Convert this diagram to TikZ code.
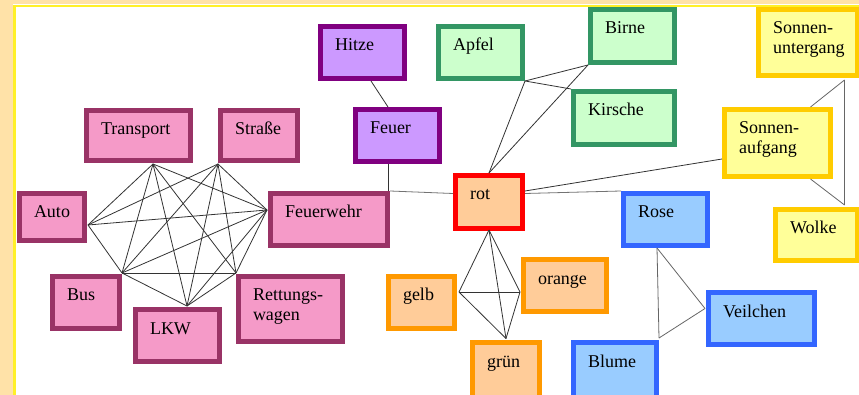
\documentclass[tikz,border=0pt]{standalone}
\usepackage{fontspec}
\setmainfont{Liberation Serif}
\usetikzlibrary{calc}
\definecolor{strip}{RGB}{255,226,168}
\definecolor{yline}{RGB}{255,240,40}
\definecolor{pinkF}{RGB}{245,154,200}
\definecolor{pinkD}{RGB}{153,51,102}
\definecolor{purF}{RGB}{204,153,255}
\definecolor{purD}{RGB}{128,0,128}
\definecolor{grnF}{RGB}{204,255,204}
\definecolor{grnD}{RGB}{51,150,100}
\definecolor{yelF}{RGB}{255,255,153}
\definecolor{yelD}{RGB}{255,204,0}
\definecolor{orF}{RGB}{255,204,153}
\definecolor{orD}{RGB}{255,153,0}
\definecolor{redD}{RGB}{255,0,0}
\definecolor{bluF}{RGB}{153,204,255}
\definecolor{bluD}{RGB}{51,102,255}
\tikzset{
  box/.style={draw, line width=5pt, inner xsep=14.5pt, inner ysep=3pt,
    text height=21.5pt, align=left, font=\fontsize{18}{20}\selectfont, text=black},
  pinkbox/.style={fill=pinkF, draw=pinkD},
  purbox/.style={fill=purF, draw=purD},
  grnbox/.style={fill=grnF, draw=grnD},
  yelbox/.style={fill=yelF, draw=yelD},
  orbox/.style={fill=orF, draw=orD},
  redbox/.style={fill=orF, draw=redD},
  blubox/.style={fill=bluF, draw=bluD},
  link/.style={draw=black!80, line width=0.8pt}
}
\newcommand\kbox[7]{%
  \pgfmathsetmacro\kbw{#5-#3-5}%
  \pgfmathsetmacro\kbh{#6-#4-5}%
  \pgfmathsetmacro\kbtw{#5-#3-5-29}%
  \pgfmathsetmacro\kbtd{#6-#4-5-6-21.5}%
  \pgfmathsetmacro\kbcx{(#3+#5)/2}%
  \pgfmathsetmacro\kbcy{(#4+#6)/2}%
  \node[box,#2,minimum width=\kbw pt,minimum height=\kbh pt,text width=\kbtw pt,text depth=\kbtd pt] (#1) at (\kbcx,\kbcy) {#7};}
\begin{document}
\begin{tikzpicture}[x=1pt,y=-1pt]
\useasboundingbox (0,0) rectangle (859,395);
\fill[white] (0,0) rectangle (859,395);
\fill[strip] (0,0) rectangle (12.5,395);
\fill[strip] (0,0) rectangle (859,4.5);
\draw[yline, line width=2.5pt] (14.5,395) -- (14.5,6) -- (859,6);

% pink cluster
\kbox{transport}{pinkbox}{84}{108}{193}{163}{Transport}
\kbox{strasse}{pinkbox}{218}{108}{300}{163}{Straße}
\kbox{auto}{pinkbox}{17}{191}{87}{243}{Auto}
\kbox{feuerwehr}{pinkbox}{268}{191}{390}{248}{Feuerwehr}
\kbox{bus}{pinkbox}{50}{274}{122}{331}{Bus}
\kbox{lkw}{pinkbox}{133}{307}{222}{364}{LKW}
\kbox{rett}{pinkbox}{236}{274}{345}{344}{Rettungs-\\wagen}
% purple
\kbox{hitze}{purbox}{318}{24}{407}{81}{Hitze}
\kbox{feuer}{purbox}{353}{107}{442}{164}{Feuer}
% green
\kbox{apfel}{grnbox}{436}{24}{525}{81}{Apfel}
\kbox{birne}{grnbox}{588}{7}{677}{65}{Birne}
\kbox{kirsche}{grnbox}{571}{89}{677}{147}{Kirsche}
% yellow
\kbox{su}{yelbox}{756}{7}{860}{78}{Sonnen-\\untergang}
\kbox{sa}{yelbox}{722}{107}{833}{179}{Sonnen-\\aufgang}
\kbox{wolke}{yelbox}{773}{207}{860}{263}{Wolke}
% orange
\kbox{rot}{redbox}{453}{173}{525}{231}{rot}
\kbox{gelb}{orbox}{386}{274}{457}{331}{gelb}
\kbox{orange}{orbox}{521}{257}{609}{314}{orange}
\kbox{gruen}{orbox}{470}{340}{542}{402}{grün}
% blue
\kbox{rose}{blubox}{621}{191}{710}{248}{Rose}
\kbox{blume}{blubox}{571}{340}{659}{402}{Blume}
\kbox{veilchen}{blubox}{706}{290}{817}{347}{Veilchen}

% connection points
\coordinate (tP) at ($(transport.south)+(14.5,1)$);
\coordinate (sP) at ($(strasse.south west)+(0,1)$);
\coordinate (aP) at ($(auto.east)+(1,8)$);
\coordinate (fwP) at ($(feuerwehr.west)+(-1,-9.5)$);
\coordinate (bP) at ($(bus.north east)+(0,-1)$);
\coordinate (rwP) at ($(rett.north west)+(0,-1)$);
\coordinate (lP) at ($(lkw.north)+(9.5,-1)$);

\foreach \u/\v in {tP/aP,tP/bP,tP/lP,tP/rwP,tP/fwP,
  sP/aP,sP/bP,sP/lP,sP/rwP,sP/fwP,
  aP/fwP,aP/bP,fwP/rwP,fwP/lP,fwP/bP,bP/rwP,bP/lP,rwP/lP}
  \draw[link] (\u) -- (\v);

% Hitze - Feuer - rot
\draw[link] ($(hitze.south)+(8.5,0)$) -- ($(feuer.north)+(-9.5,0)$);
\draw[link] ($(feuer.south)+(-9.5,0)$) coordinate (fs) -- (fs |- feuerwehr.north east);
\draw[link, draw=black!55] (feuerwehr.north east) -- ($(rot.west)+(0,-8.5)$);
\draw[link, draw=black!55] ($(rot.east)+(0,-8.5)$) -- (rose.north west);
\draw[link] ($(rot.east)+(0,-11)$) -- ($(sa.west)+(0,16)$);

% fruit
\draw[link] (apfel.south east) -- (rot.north);
\draw[link] (apfel.south east) -- (birne.south west);
\draw[link] (apfel.south east) -- (kirsche.north west);
\draw[link] (rot.north) -- (birne.south west);

% colours
\coordinate (gP) at ($(gelb.east)+(2,-10.5)$);
\coordinate (oP) at ($(orange.west)+(-1,6.5)$);
\coordinate (grP) at ($(gruen.north)+(0,-1.5)$);
\coordinate (rS) at ($(rot.south)+(0,-1)$);
\foreach \u/\v in {rS/gP,rS/oP,rS/grP,gP/oP,gP/grP,oP/grP}
  \draw[link] (\u) -- (\v);

% sun
\coordinate (suP) at ($(su.south east)+(-15.5,2)$);
\coordinate (saT) at ($(sa.north east)+(-22.5,0)$);
\coordinate (saB) at ($(sa.south east)+(-22.5,0)$);
\coordinate (wP) at ($(wolke.north east)+(-15.5,-2)$);
\draw[link, draw=black!60] (saT) -- (suP);
\draw[link, draw=black!60] (suP) -- (wP);
\draw[link, draw=black!60] (saB) -- (wP);

% flowers
\coordinate (roP) at ($(rose.south)+(-8.5,0)$);
\coordinate (blP) at ($(blume.north east)+(0,-2)$);
\coordinate (veP) at ($(veilchen.west)+(-1,-10)$);
\draw[link, draw=black!60] (roP) -- (blP);
\draw[link, draw=black!60] (roP) -- (veP);
\draw[link, draw=black!60] (blP) -- (veP);
\end{tikzpicture}
\end{document}
